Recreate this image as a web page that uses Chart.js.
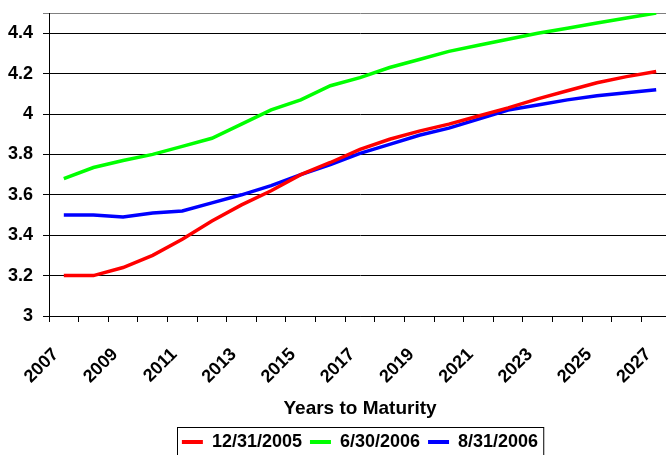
<!DOCTYPE html>
<html>
<head>
<meta charset="utf-8">
<script src="https://cdn.jsdelivr.net/npm/chart.js@4"></script>
<style>
    html, body { margin: 0; padding: 0; overflow: hidden; background: #fff; }
    #wrap { width: 666px; height: 455px; overflow: hidden; }
</style>
</head>
<body>
<div id="wrap"><canvas id="yieldChart" width="676" height="461"></canvas></div>
<script>
const years = ["2007", "2008", "2009", "2010", "2011", "2012", "2013", "2014", "2015", "2016", "2017",
    "2018", "2019", "2020", "2021", "2022", "2023", "2024", "2025", "2026", "2027"];

const dec2005 = [3.20, 3.20, 3.24, 3.30, 3.38, 3.47, 3.55, 3.62, 3.70, 3.76, 3.825,
    3.875, 3.915, 3.95, 3.99, 4.03, 4.075, 4.115, 4.155, 4.185, 4.21];
const jun2006 = [3.68, 3.735, 3.77, 3.80, 3.84, 3.88, 3.95, 4.02, 4.07, 4.14, 4.18,
    4.23, 4.27, 4.31, 4.34, 4.37, 4.40, 4.425, 4.45, 4.475, 4.50];
const aug2006 = [3.50, 3.50, 3.49, 3.51, 3.52, 3.56, 3.60, 3.645, 3.70, 3.75, 3.805,
    3.85, 3.895, 3.93, 3.975, 4.02, 4.045, 4.07, 4.09, 4.105, 4.12];

const seriesNames = ["12/31/2005", "6/30/2006", "8/31/2006"];
// 4.5 is the top edge of the plot, it gets a line but no label
const yTicks = [3, 3.2, 3.4, 3.6, 3.8, 4, 4.2, 4.4, 4.5];
const yMin = 3;
const yMax = 4.5;

const font = { family: "'Liberation Sans', Arial, sans-serif", weight: "bold", size: 18 };

/*
 * Box round the legend, as in the Excel original */
const legendFrame = {
    id: "legendFrame",
    afterDraw(chart) {
        const boxes = chart.legend.legendHitBoxes;
        if (!boxes || !boxes.length) return;
        const ctx = chart.ctx;
        const left = Math.min(...boxes.map((b) => b.left)) - 5;
        const right = Math.max(...boxes.map((b) => b.left + b.width)) + 5;
        const mid = boxes[0].top + boxes[0].height / 2;
        ctx.save();
        ctx.strokeStyle = "#000";
        ctx.lineWidth = 1;
        ctx.strokeRect(Math.round(left) + 0.5, Math.round(mid - 15.5) + 0.5, right - left, 31);
        ctx.restore();
    },
};

new Chart(document.getElementById("yieldChart"), {
    type: "line",
    data: {
        labels: years,
        datasets: [
            { label: seriesNames[0], data: dec2005, borderColor: "#ff0000", backgroundColor: "#ff0000" },
            { label: seriesNames[1], data: jun2006, borderColor: "#00ff00", backgroundColor: "#00ff00" },
            { label: seriesNames[2], data: aug2006, borderColor: "#0000ff", backgroundColor: "#0000ff" },
        ],
    },
    options: {
        responsive: false,
        animation: false,
        devicePixelRatio: 1,
        layout: { padding: { top: 13, right: 5, left: 0, bottom: 0 } },
        elements: {
            line: { borderWidth: 3.5, tension: 0 },
            point: { radius: 0 },
        },
        scales: {
            x: {
                offset: true,
                grid: { offset: true, drawOnChartArea: false, color: "#000", tickLength: 6 },
                border: { color: "#000", width: 1 },
                ticks: {
                    autoSkip: false,
                    maxRotation: 45,
                    minRotation: 45,
                    color: "#000",
                    font: font,
                    padding: 22,
                    labelOffset: -8,
                    callback: (v, i) => (i % 2 === 0 ? years[i] : ""),
                },
                title: {
                    display: true,
                    text: "Years to Maturity",
                    color: "#000",
                    font: { ...font, size: 19 },
                    padding: { top: 4, bottom: 5 },
                },
                afterFit: (scale) => {
                    scale.height = 109;
                    scale.paddingLeft = 0;
                    scale.paddingRight = 0;
                },
            },
            y: {
                min: yMin,
                max: yMax,
                afterBuildTicks: (scale) => { scale.ticks = yTicks.map((v) => ({ value: v })); },
                ticks: {
                    color: "#000",
                    font: font,
                    padding: 10,
                    callback: (v) => (v === yMax ? "" : v),
                },
                grid: {
                    color: (c) => (c.tick && c.tick.value === yMax ? "#808080" : "#000"),
                    tickLength: 6,
                },
                border: { color: "#000", width: 1 },
                afterFit: (scale) => {
                    scale.width = 49;
                    scale.paddingTop = 0;
                    scale.paddingBottom = 0;
                },
            },
        },
        plugins: {
            legend: {
                position: "bottom",
                fullSize: false,
                labels: {
                    color: "#000",
                    font: font,
                    boxWidth: 21,
                    boxHeight: 4,
                    padding: 8,
                    generateLabels: (chart) =>
                        Chart.defaults.plugins.legend.labels.generateLabels(chart).map((l) => ({
                            ...l,
                            lineWidth: 0,
                            fillStyle: l.strokeStyle,
                        })),
                },
            },
            tooltip: { enabled: false },
        },
    },
    plugins: [legendFrame],
});
</script>
</body>
</html>
